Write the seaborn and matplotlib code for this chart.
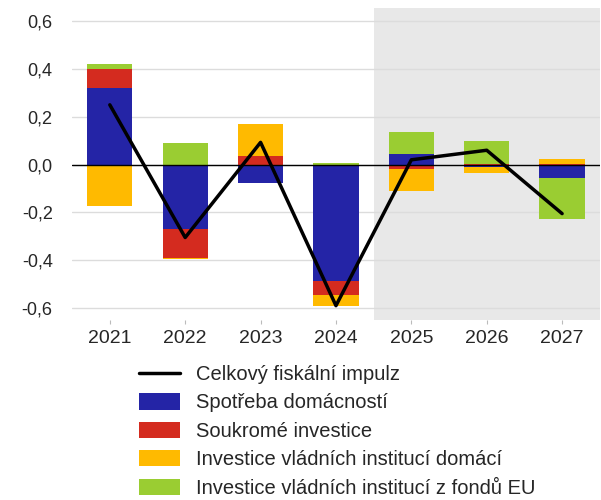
import numpy as np
import pandas as pd
import seaborn as sns
import matplotlib.pyplot as plt
from matplotlib.patches import Patch
from matplotlib.lines import Line2D

# values
years = ["2021", "2022", "2023", "2024", "2025", "2026", "2027"]
spotreba = [0.32, -0.27, -0.076, -0.487, 0.044, -0.010, -0.056]
soukrome = [0.08, -0.12, 0.035, -0.060, -0.020, 0.003, 0.003]
vladni_domaci = [-0.175, -0.006, 0.135, -0.046, -0.090, -0.024, 0.020]
vladni_eu = [0.022, 0.090, 0.0, 0.005, 0.092, 0.095, -0.172]
celkovy = [0.25, -0.305, 0.093, -0.59, 0.02, 0.06, -0.205]

labels = [
    "Spotřeba domácností",
    "Soukromé investice",
    "Investice vládních institucí domácí",
    "Investice vládních institucí z fondů EU",
]
colors = ["#2424A6", "#D42B1F", "#FFBA00", "#9ACD32"]
line_label = "Celkový fiskální impulz"

sns.set_style("white")
plt.rcParams["font.family"] = ["Liberation Sans", "DejaVu Sans"]

fig = plt.figure(figsize=(6.01, 5.0), dpi=100)
ax = fig.add_axes([0.12, 0.36, 0.878, 0.624])

# forecast shading
ax.axvspan(3.5, 6.5, color="#E8E8E8", zorder=0, lw=0)

# stacked bars, positives and negatives stacked separately
pos_bottom = np.zeros(len(years))
neg_bottom = np.zeros(len(years))
for vals, c in zip([spotreba, soukrome, vladni_domaci, vladni_eu], colors):
    vals = np.array(vals)
    bottom = np.where(vals >= 0, pos_bottom, neg_bottom)
    sns.barplot(x=years, y=vals, bottom=bottom, color=c, width=0.6,
                saturation=1, linewidth=0, edgecolor="none", ax=ax, zorder=3)
    pos_bottom += np.where(vals >= 0, vals, 0)
    neg_bottom += np.where(vals < 0, vals, 0)

ax.plot(np.arange(len(years)), celkovy, color="black", lw=2.5, zorder=5)

ax.set_xlim(-0.5, 6.5)
ax.set_ylim(-0.65, 0.655)
ax.set_yticks([-0.6, -0.4, -0.2, 0.0, 0.2, 0.4, 0.6])
ax.set_yticklabels([f"{v:.1f}".replace(".", ",") for v in ax.get_yticks()])
ax.yaxis.grid(True, color="#DCDCDC", lw=1, zorder=1)
ax.set_axisbelow(True)
ax.axhline(0, color="black", lw=1, zorder=4)
for s in ax.spines.values():
    s.set_visible(False)
ax.tick_params(axis="y", length=0, pad=14, labelsize=13)
ax.tick_params(axis="x", length=3, color="#BBBBBB", pad=4, labelsize=14, bottom=True)
ax.set_xlabel("")
ax.set_ylabel("")

handles = [Line2D([0], [0], color="black", lw=2.5)]
handles += [Patch(facecolor=c, edgecolor="none") for c in colors]
fig.legend(handles, [line_label] + labels, loc="upper left",
           bbox_to_anchor=(0.231, 0.27), frameon=False, fontsize=14.5,
           handlelength=2.05, handleheight=0.85, labelspacing=0.47,
           handletextpad=0.8, borderpad=0, borderaxespad=0)

fig.savefig("out.png", dpi=100)
